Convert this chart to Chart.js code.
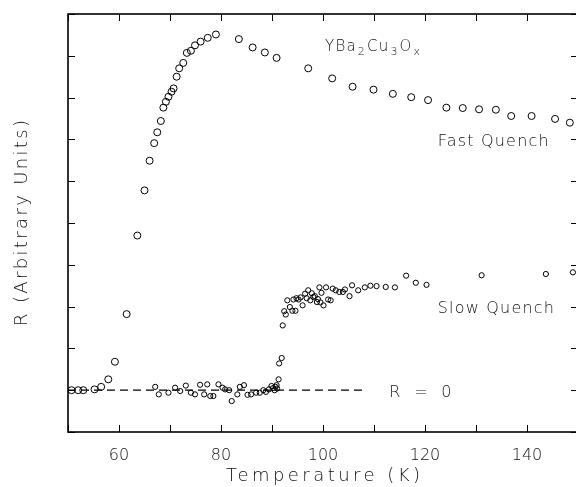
<!DOCTYPE html>
<html>
<head>
<meta charset="utf-8">
<script src="https://cdn.jsdelivr.net/npm/chart.js@4.4.1/dist/chart.umd.min.js"></script>
<style>
  html, body { margin: 0; padding: 0; background: #fff; overflow: hidden; }
  canvas { display: block; }
</style>
</head>
<body>
<canvas id="chart" width="600" height="487"></canvas>
<script>
// Fast quench sample (T in K, R in arbitrary units)
const fastT = [50.7, 52.0, 53.0, 55.2, 56.5, 57.9, 59.2, 61.5, 63.6, 65.0, 66.0, 66.9, 67.5, 68.2,
  68.7, 69.2, 69.7, 70.3, 70.7, 71.3, 71.8, 72.6, 73.3, 74.1, 74.9, 76.0, 77.4, 79.0, 83.5, 86.2,
  88.6, 90.9, 97.1, 101.8, 105.8, 109.9, 113.7, 117.3, 120.6, 124.2, 127.4, 130.6, 133.9, 136.9,
  140.9, 145.5, 148.4];
const fastR = [0.0, 0.0, 0.0, 0.02, 0.08, 0.26, 0.68, 1.82, 3.70, 4.78, 5.49, 5.91, 6.17, 6.44,
  6.76, 6.90, 7.02, 7.14, 7.22, 7.50, 7.70, 7.83, 8.07, 8.12, 8.25, 8.34, 8.43, 8.51, 8.40, 8.20,
  8.08, 7.95, 7.70, 7.46, 7.26, 7.19, 7.09, 7.01, 6.94, 6.76, 6.75, 6.72, 6.71, 6.56,
  6.56, 6.49, 6.40];

// Slow quench sample
const slowT = [67.1, 67.8, 69.7, 71.0, 72.0, 73.1, 74.1, 74.9, 75.9, 76.7, 77.3, 77.9, 78.5, 79.5,
  80.3, 80.8, 81.6, 82.1, 83.2, 83.7, 84.5, 85.2, 85.9, 86.9, 87.6, 88.3, 88.8, 89.4, 89.9, 90.2,
  90.5, 90.7, 90.9, 91.0, 91.3, 91.4, 91.9, 92.1, 92.4, 92.7, 93.0, 93.5, 94.0, 94.2, 94.6, 94.8,
  95.2, 95.6, 96.0, 96.5, 96.8, 97.1, 97.5, 97.8, 98.1, 98.4, 98.8, 99.0, 99.3, 99.5, 99.7, 100.1,
  100.6, 101.0, 101.5, 101.9, 102.5, 103.2, 103.9, 104.3, 105.2, 105.7, 106.9, 108.2, 109.3,
  110.5, 112.3, 114.1, 116.3, 118.2, 120.3, 131.1, 143.7, 149.0];
const slowR = [0.08, -0.10, -0.06, 0.06, -0.02, 0.11, -0.06, -0.10, 0.13, -0.10, 0.14, -0.14, -0.14, 0.14,
  0.06, 0.02, 0.00, -0.26, -0.10, 0.08, 0.12, -0.11, -0.10, -0.06, -0.06, 0.00, -0.04, 0.02, 0.10, 0.05,
  0.00, 0.08, 0.12, 0.04, 0.26, 0.64, 0.77, 1.55, 1.89, 1.81, 2.15, 1.99, 1.90, 2.17, 1.90, 2.20,
  2.17, 2.22, 2.03, 2.31, 2.20, 2.39, 2.15, 2.32, 2.23, 2.25, 2.11, 2.18, 2.46, 2.10, 2.33, 2.03,
  2.46, 2.17, 2.15, 2.43, 2.39, 2.35, 2.35, 2.41, 2.25, 2.51, 2.39, 2.46, 2.50,
  2.49, 2.47, 2.46, 2.74, 2.57, 2.52, 2.75, 2.78, 2.82];

// R = 0 reference (dashed)
const zeroT = [50, 108.2];
const zeroR = [0, 0];

// axes
const tempTicks = [50, 60, 70, 80, 90, 100, 110, 120, 130, 140, 150];
const tempLabels = [60, 80, 100, 120, 140];
const rTicks = [-1, 0, 1, 2, 3, 4, 5, 6, 7, 8, 9];

const FONT = '"DejaVu Sans", "Liberation Sans", sans-serif';
const INK = '#111';

function pts(xs, ys) { return xs.map((v, i) => ({ x: v, y: ys[i] })); }

// draws a string with letter spacing so it fills a given width
function spacedText(ctx, str, x, y, width) {
  ctx.letterSpacing = '0px';
  const w = ctx.measureText(str).width;
  const sp = Math.max(0, (width - w) / (str.length - 1));
  ctx.letterSpacing = sp + 'px';
  ctx.fillText(str, x + sp / 2, y);
  ctx.letterSpacing = '0px';
}

const framePlugin = {
  id: 'frame',
  afterDraw(chart) {
    const { ctx, chartArea: a, scales: { x, y } } = chart;
    ctx.save();
    ctx.strokeStyle = '#000';
    ctx.lineWidth = 1;
    const tl = 7;
    ctx.beginPath();
    tempTicks.forEach(v => {
      const px = Math.round(x.getPixelForValue(v)) + 0.5;
      ctx.moveTo(px, a.bottom); ctx.lineTo(px, a.bottom - tl);
      ctx.moveTo(px, a.top); ctx.lineTo(px, a.top + tl);
    });
    rTicks.forEach(v => {
      const py = Math.round(y.getPixelForValue(v)) + 0.5;
      ctx.moveTo(a.left, py); ctx.lineTo(a.left + tl, py);
      ctx.moveTo(a.right, py); ctx.lineTo(a.right - tl, py);
    });
    ctx.stroke();

    ctx.lineWidth = 1.6;
    ctx.strokeRect(a.left, a.top, a.right - a.left, a.bottom - a.top);

    ctx.fillStyle = INK;
    ctx.textBaseline = 'alphabetic';
    ctx.textAlign = 'center';

    // axis titles
    ctx.font = '200 18px ' + FONT;
    spacedText(ctx, 'Temperature (K)', (a.left + a.right) / 2, 481, 194);
    ctx.save();
    ctx.translate(27, (a.top + a.bottom) / 2);
    ctx.rotate(-Math.PI / 2);
    spacedText(ctx, 'R (Arbitrary Units)', 0, 0, 206);
    ctx.restore();

    // annotations
    ctx.textAlign = 'left';
    ctx.font = '200 16px ' + FONT;
    ctx.letterSpacing = '1.2px';
    ctx.fillText('Fast Quench', x.getPixelForValue(122.5), y.getPixelForValue(5.84));
    ctx.fillText('Slow Quench', x.getPixelForValue(122.5), y.getPixelForValue(1.84));
    ctx.fillText('R  =  0', x.getPixelForValue(113.0), y.getPixelForValue(-0.17));

    // YBa2Cu3Ox with subscripts
    let cx = x.getPixelForValue(100.4);
    const by = y.getPixelForValue(8.12);
    const parts = [['YBa', 0], ['2', 1], ['Cu', 0], ['3', 1], ['O', 0], ['x', 1]];
    parts.forEach(([s, sub]) => {
      ctx.font = sub ? '200 11px ' + FONT : '200 15px ' + FONT;
      ctx.fillText(s, cx, by + (sub ? 4 : 0));
      cx += ctx.measureText(s).width + 1;
    });
    ctx.letterSpacing = '0px';
    ctx.restore();
  }
};

new Chart(document.getElementById('chart'), {
  type: 'scatter',
  data: {
    datasets: [
      {
        label: 'Fast Quench',
        data: pts(fastT, fastR),
        pointStyle: 'circle',
        pointRadius: 3.5,
        pointBorderWidth: 1,
        borderColor: '#000',
        backgroundColor: 'rgba(0,0,0,0)'
      },
      {
        label: 'Slow Quench',
        data: pts(slowT, slowR),
        pointStyle: 'circle',
        pointRadius: 2.6,
        pointBorderWidth: 1,
        borderColor: '#000',
        backgroundColor: 'rgba(0,0,0,0)'
      },
      {
        label: 'R = 0',
        data: pts(zeroT, zeroR),
        showLine: true,
        pointRadius: 0,
        borderColor: '#000',
        borderWidth: 1.2,
        borderDash: [8, 5]
      }
    ]
  },
  options: {
    responsive: false,
    devicePixelRatio: 1,
    animation: false,
    layout: { padding: { left: 68, top: 14, right: 22, bottom: 0 } },
    plugins: { legend: { display: false }, tooltip: { enabled: false } },
    scales: {
      x: {
        type: 'linear',
        min: 50,
        max: 150,
        grid: { display: false },
        border: { display: false },
        ticks: {
          stepSize: 10,
          autoSkip: false,
          maxRotation: 0,
          padding: 6,
          color: INK,
          font: { family: FONT, size: 16, weight: 200 },
          callback: v => tempLabels.includes(v) ? String(v) : ''
        },
        afterFit(scale) { scale.height = 55; }
      },
      y: {
        type: 'linear',
        display: false,
        min: -1,
        max: 9
      }
    }
  },
  plugins: [framePlugin]
});
</script>
</body>
</html>
